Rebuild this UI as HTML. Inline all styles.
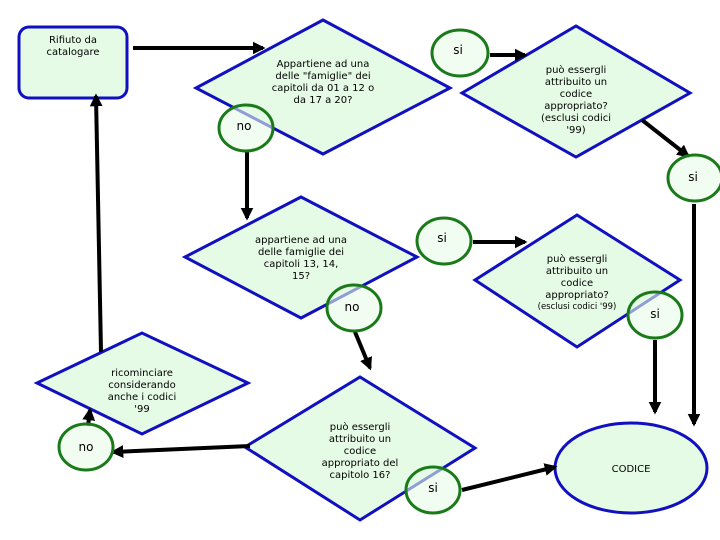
<!DOCTYPE html>
<html><head><meta charset="utf-8"><style>
html,body{margin:0;padding:0;background:#fff;width:720px;height:540px;overflow:hidden}
svg text{font-family:"DejaVu Sans","Liberation Sans",sans-serif;font-size:10px;fill:#000;text-anchor:middle}
</style></head><body>
<svg width="720" height="540" viewBox="0 0 720 540" xmlns="http://www.w3.org/2000/svg">
<defs>
<marker id="a" viewBox="0 0 10 10" refX="8" refY="5" markerWidth="3.2" markerHeight="3.2" orient="auto"><path d="M0,0 L10,5 L0,10 z" fill="#000"/></marker>
</defs>
<g stroke="#1010c0" stroke-width="3" fill="#e6fbe6">
<rect x="19" y="27" width="108" height="71" rx="10"/>
<polygon points="196,88 323,20 450,88 323,154"/>
<polygon points="462,93 576,26 690,93 576,157"/>
<polygon points="185,257 301,197 417,257 301,318"/>
<polygon points="475,280 577,215 680,280 577,347"/>
<polygon points="37,383 142,333 248,383 142,434"/>
<polygon points="245,447 360,377 475,448 360,520"/>
<ellipse cx="631" cy="468" rx="76" ry="45"/>
</g>
<g stroke="#000" stroke-width="4" fill="none" marker-end="url(#a)">
<line x1="133" y1="48" x2="263" y2="48"/>
<line x1="490" y1="55" x2="525" y2="55"/>
<line x1="642" y1="120" x2="688" y2="156"/>
<line x1="247" y1="152" x2="247" y2="218"/>
<line x1="473" y1="242" x2="525" y2="242"/>
<line x1="355" y1="332" x2="370" y2="368"/>
<line x1="101" y1="352" x2="96" y2="96"/>
<line x1="88" y1="426" x2="90" y2="410"/>
<line x1="250" y1="446" x2="113" y2="452"/>
<line x1="462" y1="490" x2="555" y2="467"/>
<line x1="655" y1="340" x2="655" y2="412"/>
<line x1="694" y1="204" x2="694" y2="424"/>
</g>
<g stroke="#1a7a1a" stroke-width="3" fill="#e6fbe6" fill-opacity="0.6">
<ellipse cx="246" cy="128" rx="27" ry="23"/>
<ellipse cx="460" cy="53" rx="28" ry="23"/>
<ellipse cx="695" cy="178" rx="27" ry="23"/>
<ellipse cx="444" cy="241" rx="27" ry="23"/>
<ellipse cx="354" cy="308" rx="27" ry="23"/>
<ellipse cx="655" cy="315" rx="27" ry="23"/>
<ellipse cx="86" cy="447" rx="27" ry="23"/>
<ellipse cx="433" cy="490" rx="27" ry="23"/>
</g>
<text x="73" y="43">Rifiuto da</text>
<text x="73" y="55">catalogare</text>
<text x="323" y="67">Appartiene ad una</text>
<text x="323" y="79">delle "famiglie" dei</text>
<text x="323" y="91">capitoli da 01 a 12 o</text>
<text x="323" y="103">da 17 a 20?</text>
<text x="576" y="73">può essergli</text>
<text x="576" y="85">attribuito un</text>
<text x="576" y="97">codice</text>
<text x="576" y="109">appropriato?</text>
<text x="576" y="121">(esclusi codici</text>
<text x="576" y="133">'99)</text>
<text x="301" y="243">appartiene ad una</text>
<text x="301" y="255">delle famiglie dei</text>
<text x="301" y="267">capitoli 13, 14,</text>
<text x="301" y="279">15?</text>
<text x="577" y="262">può essergli</text>
<text x="577" y="274">attribuito un</text>
<text x="577" y="286">codice</text>
<text x="577" y="298">appropriato?</text>
<text x="577" y="309" style="font-size:8.5px">(esclusi codici '99)</text>
<text x="142" y="376">ricominciare</text>
<text x="142" y="388">considerando</text>
<text x="142" y="400">anche i codici</text>
<text x="142" y="412">'99</text>
<text x="360" y="430">può essergli</text>
<text x="360" y="442">attribuito un</text>
<text x="360" y="454">codice</text>
<text x="360" y="466">appropriato del</text>
<text x="360" y="478">capitolo 16?</text>
<text x="631" y="472">CODICE</text>
<g style="font-size:12px">
<text x="244" y="130" style="font-size:12px">no</text>
<text x="458" y="54" style="font-size:12px">si</text>
<text x="693" y="181" style="font-size:12px">si</text>
<text x="442" y="242" style="font-size:12px">si</text>
<text x="352" y="311" style="font-size:12px">no</text>
<text x="655" y="318" style="font-size:12px">si</text>
<text x="86" y="451" style="font-size:12px">no</text>
<text x="433" y="492" style="font-size:12px">si</text>
</g>
</svg>
</body></html>
